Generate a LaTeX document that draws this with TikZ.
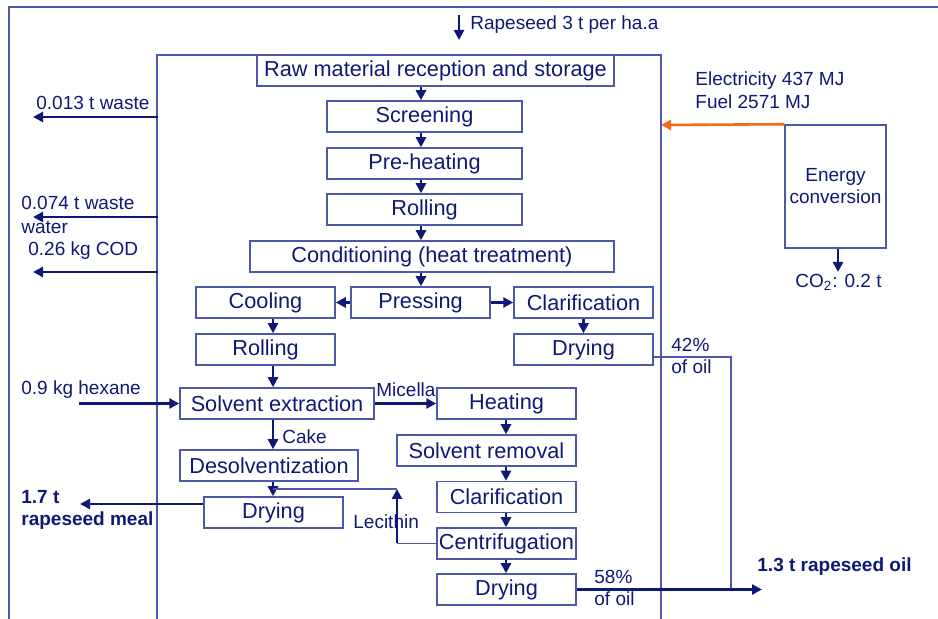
\documentclass[tikz,border=0pt]{standalone}
\usepackage{fontspec}
\setmainfont{Liberation Sans}
\usetikzlibrary{arrows.meta}
\definecolor{ink}{RGB}{16,24,118}
\definecolor{edgeblue}{RGB}{78,88,170}
\definecolor{energyorange}{RGB}{245,105,25}
\begin{document}
\begin{tikzpicture}[x=0.5pt,y=-0.5pt,
  stepbox/.style={draw=edgeblue, line width=0.75pt, inner sep=0pt, text=ink,
    font=\fontsize{10.85}{13}\selectfont, minimum height=15.5pt},
  wd/.style={minimum width=#1*0.5pt},
  lbl/.style={inner sep=0pt, anchor=west, text=ink, align=left,
    font=\fontsize{9.5}{11}\selectfont},
  boldlbl/.style={lbl, font=\fontsize{9.5}{11}\selectfont\bfseries},
  flow/.style={draw=ink, line width=1.3pt, -{Triangle[length=5pt,width=5pt]}},
  guide/.style={draw=edgeblue, line width=0.75pt},
]
\useasboundingbox (0,0) rectangle (938,619);

% plant boundary and system boundary
\draw[guide] (938,7) -- (9,7) -- (9,619);
\draw[guide] (157,619) -- (157,55) -- (661,55) -- (661,619);

% process steps
\node[stepbox,wd=357] (raw)    at (435.5,70.5)  {Raw material reception and storage};
\node[stepbox,wd=195] (scr)    at (424.5,116.5) {Screening};
\node[stepbox,wd=195] (pre)    at (424.5,163.5) {Pre-heating};
\node[stepbox,wd=195] (rol1)   at (424.5,209.5) {Rolling};
\node[stepbox,wd=364] (cond)   at (432,256.5)   {Conditioning (heat treatment)};
\node[stepbox,wd=139] (cool)   at (265.5,302.5) {Cooling};
\node[stepbox,wd=139] (press)  at (420.5,302.5) {Pressing};
\node[stepbox,wd=139] (clar1)  at (583.5,302.5) {Clarification};
\node[stepbox,wd=139] (rol2)   at (265.5,349.5) {Rolling};
\node[stepbox,wd=139] (dry1)   at (583.5,349.5) {Drying};
\node[stepbox,wd=194] (solv)   at (277,403.5)   {Solvent extraction};
\node[stepbox,wd=139] (heat)   at (506.5,403.5) {Heating};
\node[stepbox,wd=179] (srem)   at (486.5,450.5) {Solvent removal};
\node[stepbox,wd=178] (desolv) at (269,465.5)   {Desolventization};
\node[stepbox,wd=139] (dry3)   at (273.5,512.5) {Drying};
\node[stepbox,wd=139] (clar2)  at (506.5,497)   {Clarification};
\node[stepbox,wd=139] (centr)  at (506.5,543.5) {Centrifugation};
\node[stepbox,wd=139] (dry2)   at (506.5,589.5) {Drying};
\node[stepbox,wd=101,minimum height=61.5pt,align=center,
  font=\fontsize{9.5}{11}\selectfont] (energy) at (835.5,186.5) {Energy\\conversion};

% column guides and free ends
\coordinate (mx) at (421,0);
\coordinate (lx) at (273,0);
\coordinate (rx) at (506,0);
\coordinate (px) at (583.5,0);
\coordinate (seedtop) at (459,15);
\coordinate (seedend) at (459,40);
\coordinate (w1a) at (158,117);  \coordinate (w1b) at (33,117);
\coordinate (w2a) at (158,217);  \coordinate (w2b) at (33,217);
\coordinate (w3a) at (158,272);  \coordinate (w3b) at (33,272);
\coordinate (hexstart) at (79,403.5);
\coordinate (mealend) at (80,504);
\coordinate (inlet) at (661,125);
\coordinate (cox) at (838,0);
\coordinate (coend) at (838,272);
\coordinate (lk) at (397,0);
\coordinate (ltop) at (397,489);
\coordinate (ljoin) at (273,489);
\coordinate (oilcorner) at (731,357);
\coordinate (oiljoin) at (731,589.5);
\coordinate (oilend) at (762,589.5);

% labels
\node[lbl] (seedlbl) at (470,25) {Rapeseed 3 t per ha.a};
\node[lbl] (w1lbl) at (36,103) {0.013 t waste};
\node[lbl,font=\fontsize{9.5}{12}\selectfont] (w2lbl) at (21,215) {0.074 t waste\\water};
\node[lbl] (w3lbl) at (28,251) {0.26 kg COD};
\node[lbl] (hexlbl) at (21,390) {0.9 kg hexane};
\node[lbl] (miclbl) at (376,390) {Micella};
\node[lbl] (cakelbl) at (282,437) {Cake};
\node[lbl] (leclbl) at (353,522) {Lecithin};
\node[boldlbl] (meallbl) at (21,510) {1.7 t\\rapeseed meal};
\node[boldlbl] (oillbl) at (757,567) {1.3 t rapeseed oil};
\node[lbl] (p42) at (671,356) {42\%\\of oil};
\node[lbl] (p58) at (594,588) {58\%\\of oil};
\node[lbl,font=\fontsize{9.5}{11.5}\selectfont] (enlbl) at (695,90.5) {Electricity 437 MJ\\Fuel 2571 MJ};
\node[lbl] (colbl) at (795,282) {CO\textsubscript{2}: 0.2 t};

% main line
\draw[flow] (seedtop) -- (seedend);
\draw[flow] (raw.south -| mx) -- (scr.north -| mx);
\draw[flow] (scr.south -| mx) -- (pre.north -| mx);
\draw[flow] (pre.south -| mx) -- (rol1.north -| mx);
\draw[flow] (rol1.south -| mx) -- (cond.north -| mx);
\draw[flow] (cond.south -| mx) -- (press.north -| mx);
\draw[flow] (press.west) -- (cool.east);
\draw[flow] (press.east) -- (clar1.west);
\draw[flow] (cool.south -| lx) -- (rol2.north -| lx);
\draw[flow] (clar1.south -| px) -- (dry1.north -| px);
\draw[flow] (rol2.south -| lx) -- (solv.north -| lx);
\draw[flow] (hexstart) -- (solv.west);
\draw[flow] (solv.east) -- (heat.west);
\draw[flow] (solv.south -| lx) -- (desolv.north -| lx);
\draw[flow] (desolv.south -| lx) -- (dry3.north -| lx);
\draw[flow] (heat.south -| rx) -- (srem.north -| rx);
\draw[flow] (srem.south -| rx) -- (clar2.north -| rx);
\draw[flow] (clar2.south -| rx) -- (centr.north -| rx);
\draw[flow] (centr.south -| rx) -- (dry2.north -| rx);

% lecithin return
\draw[guide] (centr.west) -- (centr.west -| lk);
\draw[flow] (centr.west -| lk) -- (ltop);
\draw[guide] (ltop) -- (ljoin);

% outputs
\draw[flow] (w1a) -- (w1b);
\draw[flow] (w2a) -- (w2b);
\draw[flow] (w3a) -- (w3b);
\draw[flow] (dry3.west |- mealend) -- (mealend);
\draw[guide] (dry1.east |- oilcorner) -- (oilcorner) -- (oiljoin);
\draw[flow] (dry2.east) -- (oilend);

% energy supply
\draw[flow,draw=energyorange] (energy.north west) -- (inlet);
\draw[flow] (energy.south -| cox) -- (coend);
\end{tikzpicture}
\end{document}
